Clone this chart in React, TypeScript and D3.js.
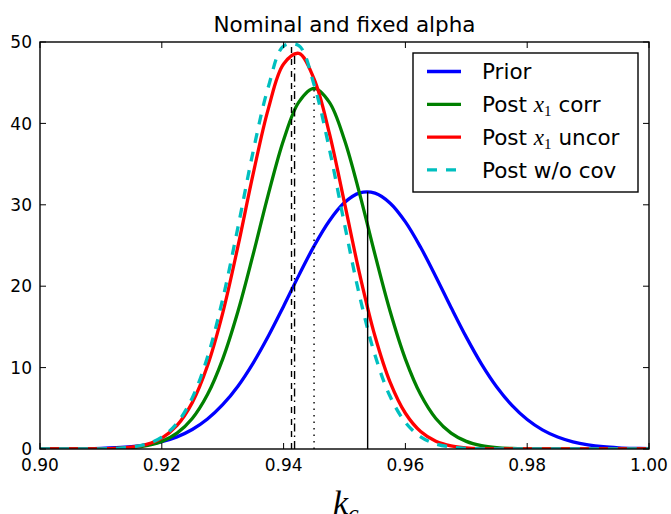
import React from "react";
import * as d3 from "d3";

const kc = [0.9, 0.9025, 0.905, 0.9075, 0.91, 0.9125, 0.915, 0.9175, 0.92, 0.9225, 0.925, 0.9275, 0.93, 0.9325, 0.935, 0.9375, 0.94, 0.9425, 0.945, 0.9475, 0.95, 0.9525, 0.955, 0.9575, 0.96, 0.9625, 0.965, 0.9675, 0.97, 0.9725, 0.975, 0.9775, 0.98, 0.9825, 0.985, 0.9875, 0.99, 0.9925, 0.995, 0.9975, 1.0];

const prior = [0.004, 0.009, 0.019, 0.039, 0.079, 0.155, 0.289, 0.52, 0.9, 1.49, 2.39, 3.68, 5.44, 7.72, 10.56, 13.88, 17.55, 21.33, 24.93, 28.01, 30.27, 31.46, 31.43, 30.2, 27.9, 24.78, 21.17, 17.39, 13.74, 10.43, 7.62, 5.36, 3.62, 2.35, 1.47, 0.88, 0.51, 0.28, 0.15, 0.077, 0.038];

const postCorr = [0.0002, 0.0006, 0.0023, 0.0075, 0.023, 0.065, 0.171, 0.416, 0.935, 1.95, 3.75, 6.69, 11.05, 16.89, 23.9, 31.31, 37.97, 42.62, 44.3, 42.62, 37.97, 31.31, 23.9, 16.89, 11.05, 6.69, 3.75, 1.95, 0.935, 0.416, 0.171, 0.065, 0.023, 0.0075, 0.0023, 0.0006, 0.0002, 0, 0, 0, 0];

const postUncor = [0, 0.0005, 0.0019, 0.0071, 0.0244, 0.0765, 0.218, 0.566, 1.34, 2.9, 5.7, 10.23, 16.7, 24.88, 33.79, 41.82, 47.3, 48.6, 45.46, 38.83, 30.23, 21.45, 13.88, 8.18, 4.39, 2.15, 0.96, 0.39, 0.145, 0.049, 0.015, 0.004, 0, 0, 0, 0, 0, 0, 0, 0, 0];

const postNoCov = [0, 0.0004, 0.0017, 0.0068, 0.024, 0.078, 0.227, 0.6, 1.45, 3.17, 6.28, 11.29, 18.41, 27.23, 36.55, 44.5, 49.5, 49.55, 44.76, 36.91, 27.61, 18.74, 11.54, 6.44, 3.27, 1.5, 0.63, 0.24, 0.081, 0.025, 0.007, 0.002, 0, 0, 0, 0, 0, 0, 0, 0, 0];

// vertical marker lines: [x, top value]
const markerPrior = [0.9538, 31.6];
const markerCorr = [0.945, 44.3];
const markerUncor = [0.9418, 48.6];
const markerNoCov = [0.9413, 49.8];

const xTicks = [0.9, 0.92, 0.94, 0.96, 0.98, 1.0];
const yTicks = [0, 10, 20, 30, 40, 50];

const W = 671;
const H = 514;
const L = 40, R = 649, T = 42, B = 449;

export default function App() {
  const x = d3.scaleLinear().domain([0.9, 1.0]).range([L, R]);
  const y = d3.scaleLinear().domain([0, 50]).range([B, T]);
  const line = (vals: number[]) =>
    d3
      .line<number>()
      .x((_, i) => x(kc[i]))
      .y((v) => y(v))
      .curve(d3.curveCatmullRom)(vals) as string;

  const font = "'DejaVu Sans', sans-serif";
  const tick = 6;
  const legendRows = [
    { color: "#0000ff", dash: "", label: "Prior", math: false, rest: "" },
    { color: "#008000", dash: "", label: "Post ", math: true, rest: " corr" },
    { color: "#ff0000", dash: "", label: "Post ", math: true, rest: " uncor" },
    { color: "#00bfbf", dash: "10,9", label: "Post w/o cov", math: false, rest: "" },
  ];

  return (
    <svg width={W} height={H} style={{ position: "absolute", left: 0, top: 0, background: "#fff" }}>
      <defs>
        <clipPath id="plot">
          <rect x={L} y={T} width={R - L} height={B - T} />
        </clipPath>
      </defs>
      <rect x={0} y={0} width={W} height={H} fill="#fff" />
      <text x={(L + R) / 2} y={32} textAnchor="middle" fontFamily={font} fontSize={21.5} fill="#000">
        Nominal and fixed alpha
      </text>
      <g clipPath="url(#plot)" fill="none" strokeWidth={3.3}>
        <path d={line(prior)} stroke="#0000ff" />
        <path d={line(postCorr)} stroke="#008000" />
        <path d={line(postUncor)} stroke="#ff0000" />
        <path d={line(postNoCov)} stroke="#00bfbf" strokeDasharray="10,9" />
      </g>
      <g stroke="#000" strokeWidth={1.4}>
        <line x1={x(markerPrior[0])} x2={x(markerPrior[0])} y1={y(0)} y2={y(markerPrior[1])} />
        <line x1={x(markerCorr[0])} x2={x(markerCorr[0])} y1={y(0)} y2={y(markerCorr[1])} strokeDasharray="1.5,5" />
        <line x1={x(markerUncor[0])} x2={x(markerUncor[0])} y1={y(0)} y2={y(markerUncor[1])} strokeDasharray="8,4,1.5,4" />
        <line x1={x(markerNoCov[0])} x2={x(markerNoCov[0])} y1={y(0)} y2={y(markerNoCov[1])} strokeDasharray="6,6" />
      </g>
      <g stroke="#000" strokeWidth={1}>
        {xTicks.map((t) => (
          <g key={"x" + t}>
            <line x1={x(t)} x2={x(t)} y1={B} y2={B - tick} />
            <line x1={x(t)} x2={x(t)} y1={T} y2={T + tick} />
          </g>
        ))}
        {yTicks.map((t) => (
          <g key={"y" + t}>
            <line x1={L} x2={L + tick} y1={y(t)} y2={y(t)} />
            <line x1={R} x2={R - tick} y1={y(t)} y2={y(t)} />
          </g>
        ))}
      </g>
      <rect x={L} y={T} width={R - L} height={B - T} fill="none" stroke="#000" strokeWidth={1.4} />
      {xTicks.map((t) => (
        <text key={"xl" + t} x={x(t)} y={471} textAnchor="middle" fontFamily={font} fontSize={17} fill="#000">
          {d3.format(".2f")(t)}
        </text>
      ))}
      {yTicks.map((t) => (
        <text key={"yl" + t} x={32} y={y(t)} dy="0.36em" textAnchor="end" fontFamily={font} fontSize={17} fill="#000">
          {t}
        </text>
      ))}
      <g>
        <rect x={413} y={53} width={225} height={139} fill="#fff" stroke="#000" strokeWidth={1.4} />
        {legendRows.map((r, i) => {
          const cy = 71.5 + i * 32.8;
          return (
            <g key={r.label + i}>
              <line x1={427} x2={461} y1={cy} y2={cy} stroke={r.color} strokeWidth={3.3} strokeDasharray={r.dash || undefined} />
              <text x={482} y={cy} dy="0.36em" fontFamily={font} fontSize={21.5} fill="#000">
                {r.label}
                {r.math && (
                  <>
                    <tspan fontFamily="'Liberation Serif', serif" fontStyle="italic" fontSize={23}>x</tspan>
                    <tspan fontFamily="'Liberation Serif', serif" fontSize={15} dy={4}>1</tspan>
                    <tspan dy={-4}>{r.rest}</tspan>
                  </>
                )}
              </text>
            </g>
          );
        })}
      </g>
      <text x={333} y={514} fontFamily="'Liberation Serif', serif" fontStyle="italic" fontSize={34} fill="#000">
        k
        <tspan fontSize={24} dy={7}>c</tspan>
      </text>
    </svg>
  );
}
